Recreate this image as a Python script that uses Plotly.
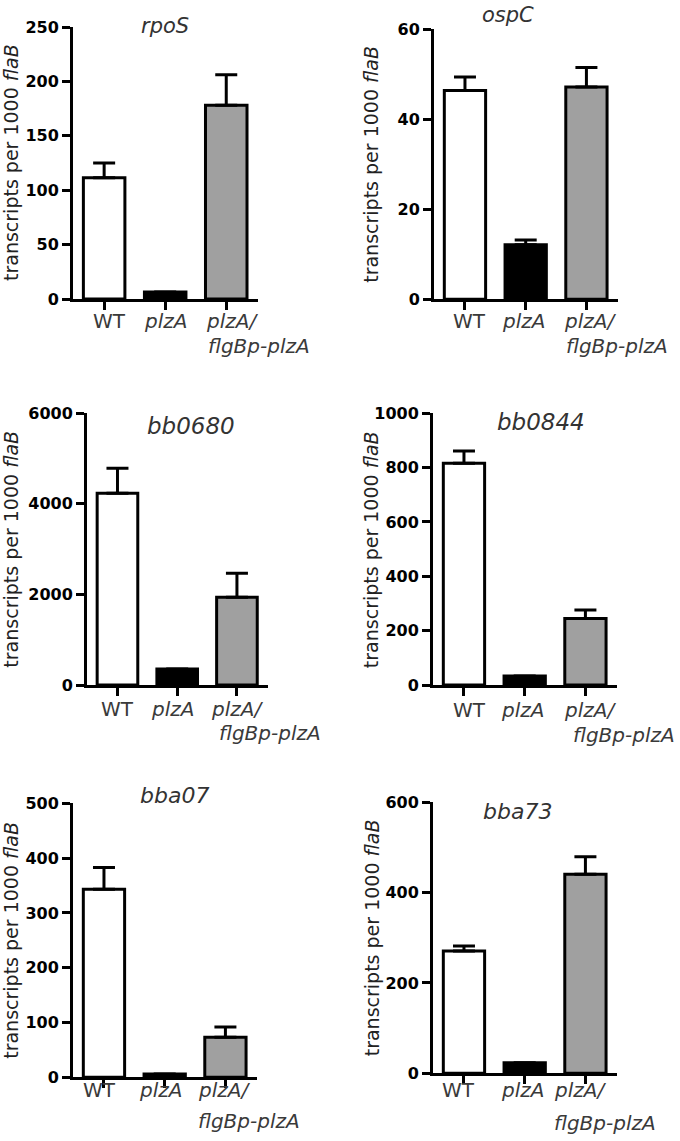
import plotly.graph_objects as go

# ---------------- data ----------------
categories = ["WT", "plzA", "plzA/flgBp-plzA"]
genes = ["rpoS", "ospC", "bb0680", "bb0844", "bba07", "bba73"]

mean_rpoS = [111.5, 6.5, 178]
err_rpoS = [13.5, 0, 28]
mean_ospC = [46.4, 12.1, 47.2]
err_ospC = [3.0, 1.1, 4.3]
mean_bb0680 = [4233, 353, 1937]
err_bb0680 = [552, 0, 530]
mean_bb0844 = [816, 33, 245]
err_bb0844 = [45, 0, 31]
mean_bba07 = [343, 6, 73]
err_bba07 = [40, 0, 19]
mean_bba73 = [271, 23.5, 440.5]
err_bba73 = [11, 0, 39]

means = [mean_rpoS, mean_ospC, mean_bb0680, mean_bb0844, mean_bba07, mean_bba73]
errs = [err_rpoS, err_ospC, err_bb0680, err_bb0844, err_bba07, err_bba73]
y_max = [250, 60, 6000, 1000, 500, 600]
y_dtick = [50, 20, 2000, 200, 100, 200]

label_line1 = ["WT", "<i>plzA</i>", "<i>plzA/</i>"]
label_line2 = "<i>flgBp-plzA</i>"
y_title = "transcripts per 1000 <i>flaB</i>"

bar_colors = ["#ffffff", "#000000", "#a0a0a0"]

# ---------------- layout (pixel geometry) ----------------
W, H = 680, 1141
panels = [
    dict(L=73, R=258, T=27, B=299, tx=165, ty=26, ts=21, yx=11, d1=22, d2=47, sh=[5, 0, -22], sh2=-20),
    dict(L=434, R=618, T=29.3, B=299.3, tx=508, ty=15, ts=21, yx=371.5, d1=22, d2=47, sh=[5, -2, -24], sh2=-22),
    dict(L=87, R=268, T=413.3, B=685, tx=191, ty=426, ts=23, yx=11.5, d1=23.5, d2=48, sh=[0, -5, -28], sh2=-20),
    dict(L=433, R=617, T=413.3, B=685, tx=541, ty=422, ts=23, yx=371, d1=25, d2=50, sh=[6, -2, -23], sh2=-14),
    dict(L=73, R=257, T=803.3, B=1077.3, tx=174, ty=795, ts=22, yx=11.5, d1=13, d2=44, sh=[-4, -4, -29], sh2=-29),
    dict(L=433, R=617, T=802.3, B=1073.3, tx=517.5, ty=811, ts=22, yx=371.5, d1=17, d2=50, sh=[-5, -2, -33], sh2=-33),
]

XR = [-0.51, 2.52]
BAR_W = 0.68

def px_x(p):
    return p / W

def px_y(p):
    return 1 - p / H

fig = go.Figure()
annotations = []
label_font = dict(family="DejaVu Sans", size=20, color="#3a3a3a")

for i, g in enumerate(genes):
    n = "" if i == 0 else str(i + 1)
    xa, ya = "x" + n, "y" + n
    p = panels[i]
    fig.add_trace(go.Bar(
        x=categories, y=means[i], xaxis=xa, yaxis=ya,
        width=BAR_W,
        marker=dict(color=bar_colors, line=dict(color="#000000", width=3)),
        error_y=dict(type="data", symmetric=False, array=errs[i],
                     arrayminus=[0, 0, 0], color="#000000", thickness=3, width=11),
        showlegend=False, hoverinfo="skip",
    ))
    axis_common = dict(showline=True, linecolor="#000000", linewidth=3,
                       showgrid=False, zeroline=False, ticks="outside",
                       ticklen=8, tickwidth=3, tickcolor="#000000", automargin=False)
    fig.layout["xaxis" + n] = dict(
        axis_common, domain=[px_x(p["L"]), px_x(p["R"])], anchor=ya,
        range=XR, type="category", categoryorder="array", categoryarray=categories,
        showticklabels=False, fixedrange=True,
    )
    fig.layout["yaxis" + n] = dict(
        axis_common, domain=[px_y(p["B"]), px_y(p["T"])], anchor=xa,
        range=[0, y_max[i]], dtick=y_dtick[i], tick0=0,
        tickfont=dict(family="DejaVu Sans", size=16, color="#000000", weight="bold"),
        fixedrange=True,
    )
    annotations.append(dict(
        text="<i>%s</i>" % g, xref="paper", yref="paper",
        x=px_x(p["tx"]), y=px_y(p["ty"]), xanchor="center", yanchor="middle",
        showarrow=False, font=dict(family="DejaVu Sans", size=p["ts"], color="#333333"),
    ))
    annotations.append(dict(
        text=y_title, xref="paper", yref="paper", textangle=-90,
        x=px_x(p["yx"]), y=px_y((p["T"] + p["B"]) / 2), xanchor="center", yanchor="middle",
        showarrow=False, font=dict(family="DejaVu Sans", size=19, color="#222222"),
    ))
    for k in range(3):
        anchor = "center" if k < 2 else "left"
        annotations.append(dict(
            text=label_line1[k], xref=xa, yref="paper", x=categories[k],
            y=px_y(p["B"] + p["d1"]), xanchor=anchor, yanchor="middle",
            xshift=p["sh"][k], showarrow=False, font=label_font,
        ))
    annotations.append(dict(
        text=label_line2, xref=xa, yref="paper", x=categories[2],
        y=px_y(p["B"] + p["d2"]), xanchor="left", yanchor="middle",
        xshift=p["sh2"], showarrow=False, font=label_font,
    ))

fig.update_layout(
    width=W, height=H, margin=dict(l=0, r=0, t=0, b=0),
    paper_bgcolor="#ffffff", plot_bgcolor="#ffffff",
    annotations=annotations, showlegend=False,
)

fig.write_html(
    "out.html",
    config={"displayModeBar": False},
    post_script="document.body.style.margin='0px';document.body.style.overflow='hidden';",
)
